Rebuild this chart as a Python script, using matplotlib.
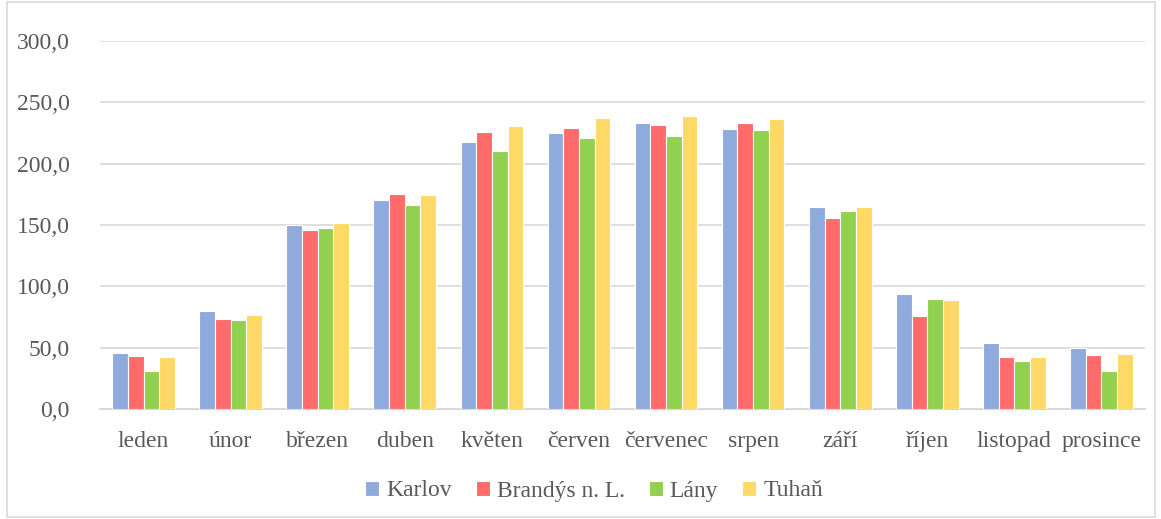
import numpy as np
import matplotlib.pyplot as plt
from matplotlib.patches import Rectangle

# months and monthly values for each station
months = ['leden', 'únor', 'březen', 'duben', 'květen', 'červen',
          'červenec', 'srpen', 'září', 'říjen', 'listopad', 'prosince']
karlov = [45.9, 80.2, 150.3, 170.2, 217.5, 224.9, 233.3, 228.4, 164.8, 93.5, 53.8, 50.0]
brandys = [43.2, 73.4, 146.3, 175.6, 226.2, 229.3, 231.9, 233.3, 156.0, 75.9, 42.7, 44.3]
lany = [31.2, 72.8, 147.4, 166.7, 210.2, 220.8, 222.9, 227.3, 161.2, 89.4, 39.4, 31.0]
tuhan = [42.1, 76.4, 152.0, 174.8, 230.3, 237.6, 238.5, 236.5, 165.0, 88.6, 42.4, 45.1]

series = [('Karlov', karlov, '#8FAADC'),
          ('Brandýs n. L.', brandys, '#FF6B6B'),
          ('Lány', lany, '#92D050'),
          ('Tuhaň', tuhan, '#FFD966')]

plt.rcParams['font.family'] = ['Liberation Serif', 'DejaVu Serif']
text_col = '#595959'

fig = plt.figure(figsize=(11.61, 5.19), dpi=100)
ax = fig.add_axes([100 / 1161, 1 - 409 / 519, 1045 / 1161, 368 / 519])

x = np.arange(len(months))
w = 0.18
for i, (name, vals, col) in enumerate(series):
    ax.bar(x + (i - 1.5) * w, vals, width=w, color=col, edgecolor='white',
           linewidth=0.8, label=name, zorder=3)

ax.set_xlim(-0.5, len(months) - 0.5)
ax.set_ylim(0, 300)
ax.set_yticks(np.arange(0, 301, 50))
ax.set_yticklabels([f'{v:.1f}'.replace('.', ',') for v in np.arange(0, 301, 50)])
ax.set_xticks(x)
ax.set_xticklabels(months)
ax.tick_params(axis='y', length=0, pad=22, labelsize=17, colors=text_col)
ax.tick_params(axis='x', length=0, pad=16, labelsize=17, colors=text_col)
ax.grid(axis='y', color='#D9D9D9', linewidth=1.2, zorder=0)
for s in ['top', 'right', 'left']:
    ax.spines[s].set_visible(False)
ax.spines['bottom'].set_color('#D9D9D9')
ax.spines['bottom'].set_linewidth(1.5)

leg = fig.legend(loc='center', bbox_to_anchor=(594 / 1161, 1 - 491 / 519), ncol=4,
                 frameon=False, fontsize=17, handlelength=0.6, handleheight=0.6,
                 handletextpad=0.3, columnspacing=1.0)
for t in leg.get_texts():
    t.set_color(text_col)

# outer chart border
fig.patches.append(Rectangle((7 / 1161, 2 / 519), 1148 / 1161, 515 / 519,
                             transform=fig.transFigure, fill=False,
                             edgecolor='#D9D9D9', linewidth=1.2))

fig.savefig('out.png', dpi=100)
